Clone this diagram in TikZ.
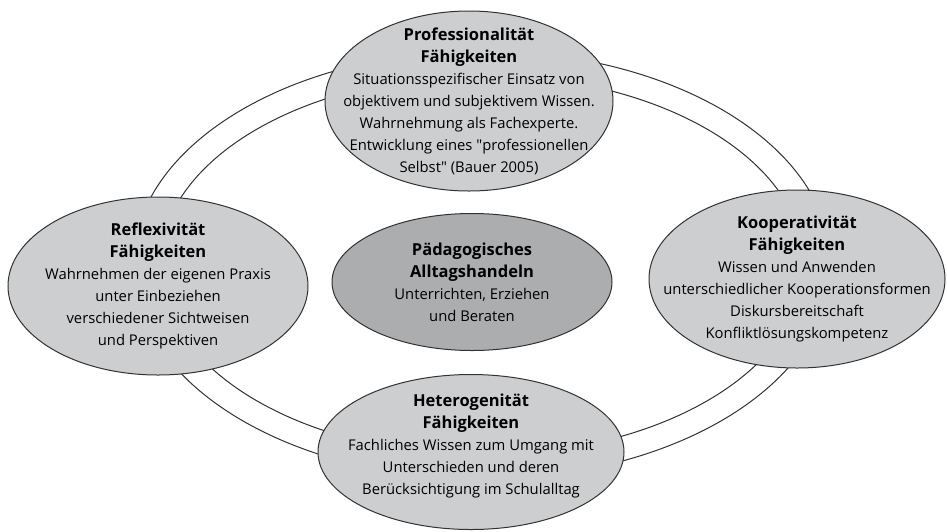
\documentclass[tikz,border=0pt]{standalone}
\usepackage{fontspec}
\setmainfont{Open Sans}
\usetikzlibrary{shapes.geometric}
\definecolor{ovalgray}{RGB}{205,206,208}
\definecolor{coregray}{RGB}{172,173,175}
\definecolor{linegray}{RGB}{50,50,50}
\newcommand{\headline}[1]{{\fontsize{16.5}{22}\selectfont\bfseries #1}}
\tikzset{x=1pt,y=-1pt,
 oval/.style={ellipse,draw=linegray,line width=1pt,fill=ovalgray,inner sep=0pt},
 core/.style={oval,fill=coregray},
 ring/.style={ellipse,draw=linegray,line width=1pt,inner sep=0pt},
 blurb/.style={align=center,inner sep=0pt,font=\fontsize{14.8}{22}\selectfont},
 }

\begin{document}
\begin{tikzpicture}
        \useasboundingbox (0,0) rectangle (947,531);
        \node[ring, minimum width=698pt, minimum height=428pt] (outer) at (482,265) {};
        \node[ring, minimum width=644pt, minimum height=380pt] (inner) at (482,265) {};

        \node[oval, minimum width=288pt, minimum height=180pt] (prof) at (469,101) {};
        \node[blurb] (proftext) at (prof)
          {\headline{Professionalität}\\ \headline{Fähigkeiten}\\ Situationsspezifischer Einsatz von\\
           objektivem und subjektivem Wissen.\\ Wahrnehmung als Fachexperte.\\
           Entwicklung eines \textquotedbl professionellen\\ Selbst\textquotedbl{} (Bauer 2005)};
        \node[oval, minimum width=300pt, minimum height=178pt] (refl) at (158,286) {};
        \node[blurb] (refltext) at (refl)
          {\headline{Reflexivität}\\ \headline{Fähigkeiten}\\ Wahrnehmen der eigenen Praxis\\
           unter Einbeziehen\\ verschiedener Sichtweisen\\ und Perspektiven};
        \node[oval, minimum width=296pt, minimum height=178pt] (koop) at (797,279) {};
        \node[blurb] (kooptext) at (koop)
          {\headline{Kooperativität}\\ \headline{Fähigkeiten}\\ Wissen und Anwenden\\
           unterschiedlicher Kooperationsformen\\ Diskursbereitschaft\\ Konfliktlösungskompetenz};
        \node[oval, minimum width=306pt, minimum height=155pt] (hetero) at (471,452) {};
        \node[blurb] (heterotext) at ([yshift=6pt]hetero)
          {\headline{Heterogenität}\\ \headline{Fähigkeiten}\\ Fachliches Wissen zum Umgang mit\\
           Unterschieden und deren\\ Berücksichtigung im Schulalltag};
        \node[core, minimum width=280pt, minimum height=137pt] (alltag) at (472,282) {};
        \node[blurb] (alltagtext) at (alltag)
          {\headline{Pädagogisches}\\ \headline{Alltagshandeln}\\ Unterrichten, Erziehen\\ und Beraten};
\end{tikzpicture}
\end{document}
